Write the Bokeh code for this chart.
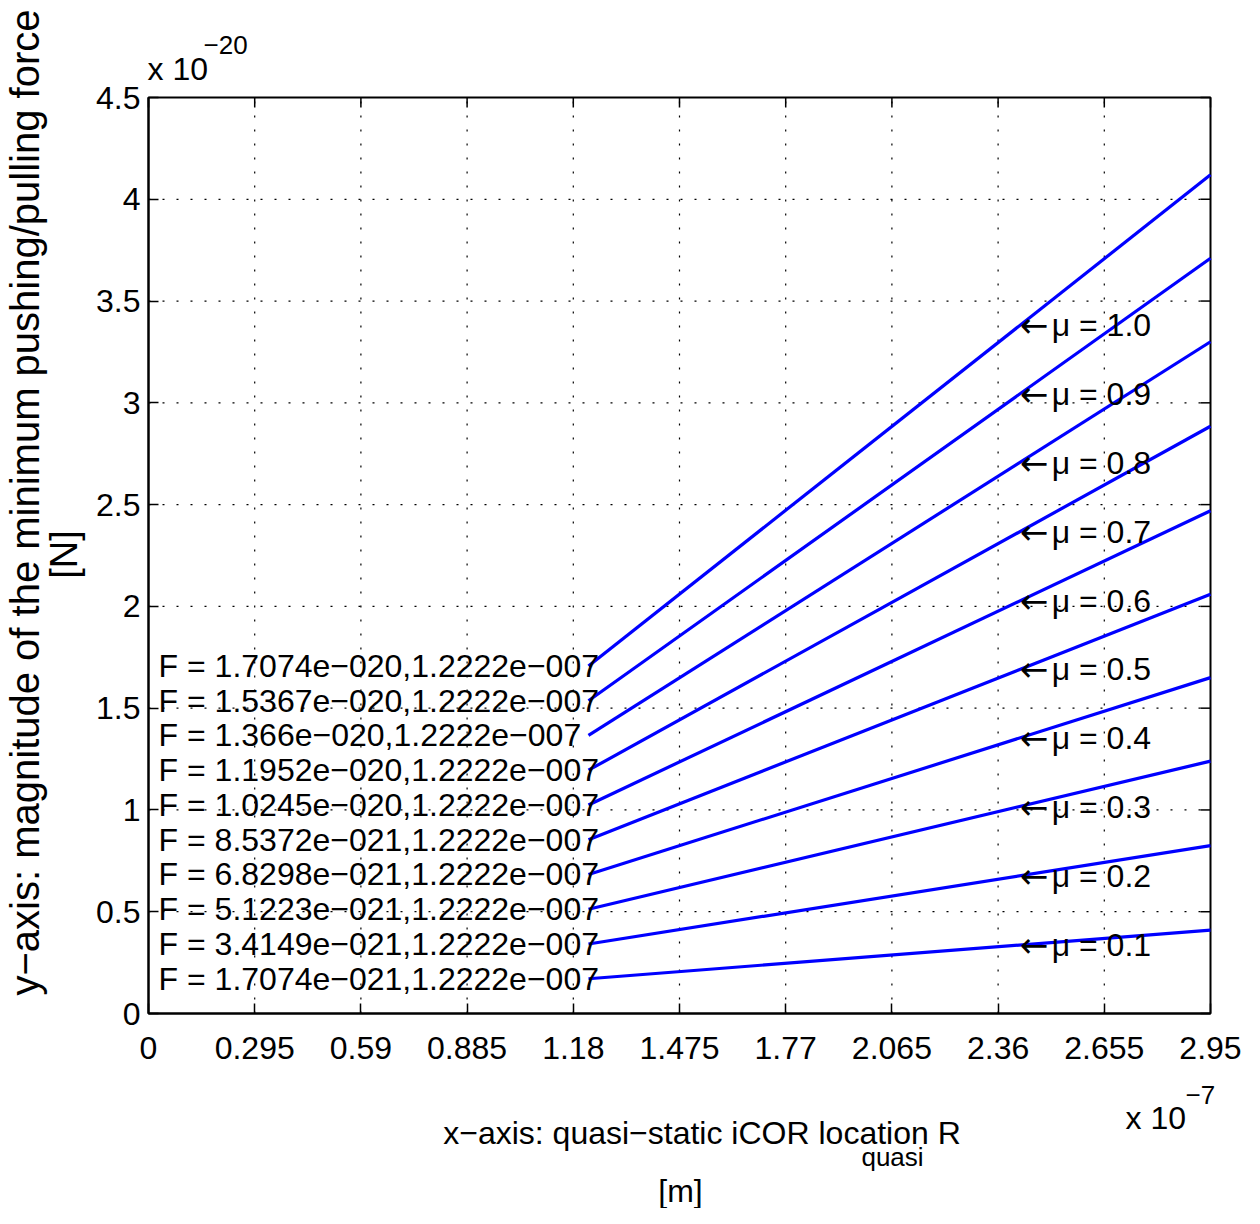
import numpy as np
from bokeh.plotting import figure
from bokeh.models import FixedTicker, LinearAxis, Label, ColumnDataSource, Range1d
from bokeh.core.properties import value
from bokeh.embed import file_html
from bokeh.resources import INLINE

# ---- data (x in units of 1e-7 m, y in units of 1e-20 N) ----
mu_values = [0.1, 0.2, 0.3, 0.4, 0.5, 0.6, 0.7, 0.8, 0.9, 1.0]
R_start = [1.2222] * 10
R_end = [2.95] * 10
F_start = [0.17074, 0.34149, 0.51223, 0.68298, 0.85372, 1.0245, 1.1952, 1.366, 1.5367, 1.7074]
F_end = [0.41, 0.825, 1.24, 1.65, 2.06, 2.47, 2.885, 3.30, 3.71, 4.12]
F_labels = [
    "F = 1.7074e\u2212021,1.2222e\u2212007",
    "F = 3.4149e\u2212021,1.2222e\u2212007",
    "F = 5.1223e\u2212021,1.2222e\u2212007",
    "F = 6.8298e\u2212021,1.2222e\u2212007",
    "F = 8.5372e\u2212021,1.2222e\u2212007",
    "F = 1.0245e\u2212020,1.2222e\u2212007",
    "F = 1.1952e\u2212020,1.2222e\u2212007",
    "F = 1.366e\u2212020,1.2222e\u2212007",
    "F = 1.5367e\u2212020,1.2222e\u2212007",
    "F = 1.7074e\u2212020,1.2222e\u2212007",
]
mu_labels = ["\u03bc = 0.1", "\u03bc = 0.2", "\u03bc = 0.3", "\u03bc = 0.4", "\u03bc = 0.5",
             "\u03bc = 0.6", "\u03bc = 0.7", "\u03bc = 0.8", "\u03bc = 0.9", "\u03bc = 1.0"]
x_ticks = [0, 0.295, 0.59, 0.885, 1.18, 1.475, 1.77, 2.065, 2.36, 2.655, 2.95]
x_tick_labels = ["0", "0.295", "0.59", "0.885", "1.18", "1.475", "1.77", "2.065", "2.36", "2.655", "2.95"]
y_ticks = [0, 0.5, 1, 1.5, 2, 2.5, 3, 3.5, 4, 4.5]
y_tick_labels = ["0", "0.5", "1", "1.5", "2", "2.5", "3", "3.5", "4", "4.5"]

label_x_F = 0.028
label_x_mu = 2.42

FONT = "Liberation Sans"
FS = "32px"

# canvas and where the axes box sits in it (pixels)
W, H = 1244, 1208
BOX_L, BOX_R, BOX_T, BOX_B = 148, 1210, 97, 1013
xmin, xmax = x_ticks[0], x_ticks[-1]
ymin, ymax = y_ticks[0], y_ticks[-1]
sx = (xmax - xmin) / (BOX_R - BOX_L)
sy = (ymax - ymin) / (BOX_B - BOX_T)
x_range = Range1d(xmin - BOX_L * sx, xmax + (W - BOX_R) * sx)
y_range = Range1d(ymin - (H - BOX_B) * sy, ymax + BOX_T * sy)


def px_x(px):
    return xmin + (px - BOX_L) * sx


def px_y(py):
    return ymin + (BOX_B - py) * sy


p = figure(width=W, height=H, output_backend="svg", toolbar_location=None,
           x_range=x_range, y_range=y_range,
           min_border=0, x_axis_location=None, y_axis_location=None)
p.outline_line_color = None
p.background_fill_color = "white"
p.border_fill_color = "white"
p.grid.visible = False

xt = FixedTicker(ticks=x_ticks)
yt = FixedTicker(ticks=y_ticks)


def style_axis(ax, ticker, labels, standoff):
    ax.ticker = ticker
    ax.major_label_overrides = {t: l for t, l in zip(ticker.ticks, labels)}
    ax.axis_line_color = "black"
    ax.axis_line_width = 2
    ax.major_tick_in = 10
    ax.major_tick_out = 0
    ax.major_tick_line_width = 1.5
    ax.minor_tick_line_color = None
    ax.major_label_text_font = FONT
    ax.major_label_text_color = "black"
    ax.major_label_standoff = standoff
    ax.major_label_text_font_size = FS


bottom = LinearAxis(fixed_location=ymin, bounds=(xmin, xmax))
style_axis(bottom, xt, x_tick_labels, 23)
p.add_layout(bottom, "below")
left = LinearAxis(fixed_location=xmin, bounds=(ymin, ymax))
style_axis(left, yt, y_tick_labels, 8)
p.add_layout(left, "left")

# dotted grid from the tick lists
p.segment(x0=x_ticks[1:-1], y0=[ymin] * 9, x1=x_ticks[1:-1], y1=[ymax] * 9,
          line_color="black", line_width=1.2, line_dash="2 12")
p.segment(x0=[xmin] * 8, y0=y_ticks[1:-1], x1=[xmax] * 8, y1=y_ticks[1:-1],
          line_color="black", line_width=1.2, line_dash="2 12")

# box (top & right edges) with inward ticks
p.quad(left=[xmin], right=[xmax], bottom=[ymin], top=[ymax], fill_color=None,
       line_color="black", line_width=2)
tick_dx = 10 * sx
tick_dy = 10 * sy
p.segment(x0=x_ticks, y0=[ymax] * len(x_ticks), x1=x_ticks, y1=[ymax - tick_dy] * len(x_ticks),
          line_color="black", line_width=1.5)
p.segment(x0=[xmax] * len(y_ticks), y0=y_ticks, x1=[xmax - tick_dx] * len(y_ticks), y1=y_ticks,
          line_color="black", line_width=1.5)

# lines
for xs, xe, ys, ye in zip(R_start, R_end, F_start, F_end):
    p.line([xs, xe], [ys, ye], line_color="#0000ff", line_width=3.2)

# F labels at the start of each line
src_F = ColumnDataSource(dict(x=[label_x_F] * len(F_start), y=F_start, t=F_labels))
p.text(x="x", y="y", text="t", source=src_F, text_font=value(FONT), text_font_size=FS,
       text_align="left", text_baseline="middle", text_color="black")

# mu labels on each line: arrow + text
mu_y = [float(np.interp(label_x_mu, [xs, xe], [ys, ye])) for xs, xe, ys, ye in zip(R_start, R_end, F_start, F_end)]
src_mu = ColumnDataSource(dict(x=[label_x_mu] * len(mu_y), y=mu_y, t=mu_labels, a=["\u2190"] * len(mu_y)))
p.text(x="x", y="y", text="a", source=src_mu, text_font=value("DejaVu Sans"), text_font_size="34px",
       text_align="left", text_baseline="middle", text_color="black")
p.text(x="x", y="y", text="t", source=src_mu, text_font=value(FONT), text_font_size=FS,
       text_align="left", text_baseline="middle", text_color="black", x_offset=32)


def lab(x, y, t, size=FS, align="left", angle=0.0):
    p.add_layout(Label(x=x, y=y, text=t, text_font=FONT, text_font_size=size,
                       text_align=align, text_baseline="middle", angle=angle,
                       text_color="black"))


# axis titles and exponents
lab(px_x(24), px_y(502), "y\u2212axis: magnitude of the minimum pushing/pulling force", size="40px",
    align="center", angle=np.pi / 2)
lab(px_x(63), px_y(554), "[N]", size="38px", align="center", angle=np.pi / 2)
lab(px_x(701.5), px_y(1132), "x\u2212axis: quasi\u2212static iCOR location R", align="center")
lab(px_x(892), px_y(1156), "quasi", size="26px", align="center")
lab(px_x(680), px_y(1190), "[m]", align="center")
lab(px_x(1125), px_y(1117), "x 10")
lab(px_x(1185), px_y(1094), "\u22127", size="26px")
lab(px_x(147), px_y(68), "x 10")
lab(px_x(203), px_y(44), "\u221220", size="26px")

open("out.html", "w").write(file_html(p, INLINE))
